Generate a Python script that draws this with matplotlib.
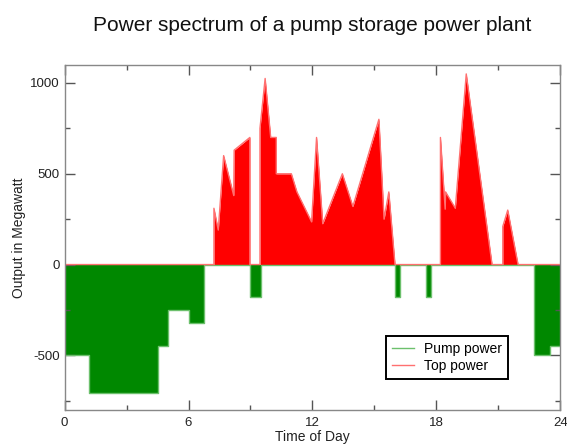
import numpy as np
import matplotlib
matplotlib.use("Agg")
import matplotlib.pyplot as plt
from matplotlib.ticker import MultipleLocator

plt.rcParams['font.family'] = ['Liberation Sans', 'DejaVu Sans']
plt.rcParams['axes.unicode_minus'] = False

# pump power (step data, value holds until next time)
pump_hours = [0, 1.2, 4.5, 5.0, 6.0, 6.75, 9.0, 9.5, 16.0, 16.25, 17.5, 17.75, 22.75, 23.5, 24]
pump_mw = [-500, -710, -450, -250, -320, 0, -180, 0, -180, 0, -180, 0, -500, -450, -450]

# top power (turbine output), linear between points
top_hours = [0, 7.23, 7.23, 7.44, 7.7, 8.19, 8.21, 8.97, 8.97, 9.46, 9.46, 9.71, 9.98,
             10.25, 10.25, 10.98, 11.25, 11.96, 12.2, 12.5, 13.45, 13.96, 15.22, 15.47,
             15.7, 16.0, 18.2, 18.2, 18.43, 18.45, 18.92, 19.45, 20.7, 21.22, 21.22,
             21.46, 21.96, 24]
top_mw = [0, 0, 310, 190, 600, 380, 630, 700, 0, 0, 750, 1025, 700,
          700, 500, 500, 400, 235, 700, 225, 500, 320, 800, 250,
          400, 0, 0, 700, 305, 400, 310, 1050, 0, 0, 210,
          300, 0, 0]

fig = plt.figure(figsize=(5.67, 4.44), dpi=100)
ax = fig.add_axes([0.114, 0.077, 0.874, 0.777])

ax.fill_between(top_hours, 0, top_mw, color='#ff0000', lw=0)
ax.fill_between(pump_hours, 0, pump_mw, step='post', color='#008800', lw=0)
pump_line, = ax.step(pump_hours, pump_mw, where='post', color='#6cc06c', lw=1)
top_line, = ax.plot(top_hours, top_mw, color='#ff7070', lw=1)

ax.set_xlim(0, 24)
ax.set_ylim(-800, 1100)
ax.xaxis.set_major_locator(MultipleLocator(6))
ax.xaxis.set_minor_locator(MultipleLocator(3))
ax.yaxis.set_major_locator(MultipleLocator(500))
ax.yaxis.set_minor_locator(MultipleLocator(250))
ax.tick_params(which='both', direction='in', top=True, right=True, color='#555555',
               labelsize=9.5, labelcolor='#222222')
ax.tick_params(which='major', length=7, width=1)
ax.tick_params(axis='x', which='major', pad=5)
ax.tick_params(which='minor', length=3.6, width=1)
for s in ax.spines.values():
    s.set_color('#888888')
    s.set_linewidth(1)

ax.set_title("Power spectrum of a pump storage power plant", fontsize=15, pad=24, color='#111111')
ax.set_xlabel("Time of Day", fontsize=10, labelpad=1, color='#222222')
ax.set_ylabel("Output in Megawatt", fontsize=10, labelpad=3, color='#222222')

leg = ax.legend([pump_line, top_line], ["Pump power", "Top power"],
                loc='upper left', bbox_to_anchor=(0.649, 0.214),
                fontsize=10, fancybox=False, framealpha=1, borderaxespad=0,
                handlelength=1.6, handletextpad=0.75, borderpad=0.4, labelspacing=0.25)
leg.get_frame().set_edgecolor('black')
leg.get_frame().set_linewidth(1.4)

fig.savefig("out.png", dpi=100)
